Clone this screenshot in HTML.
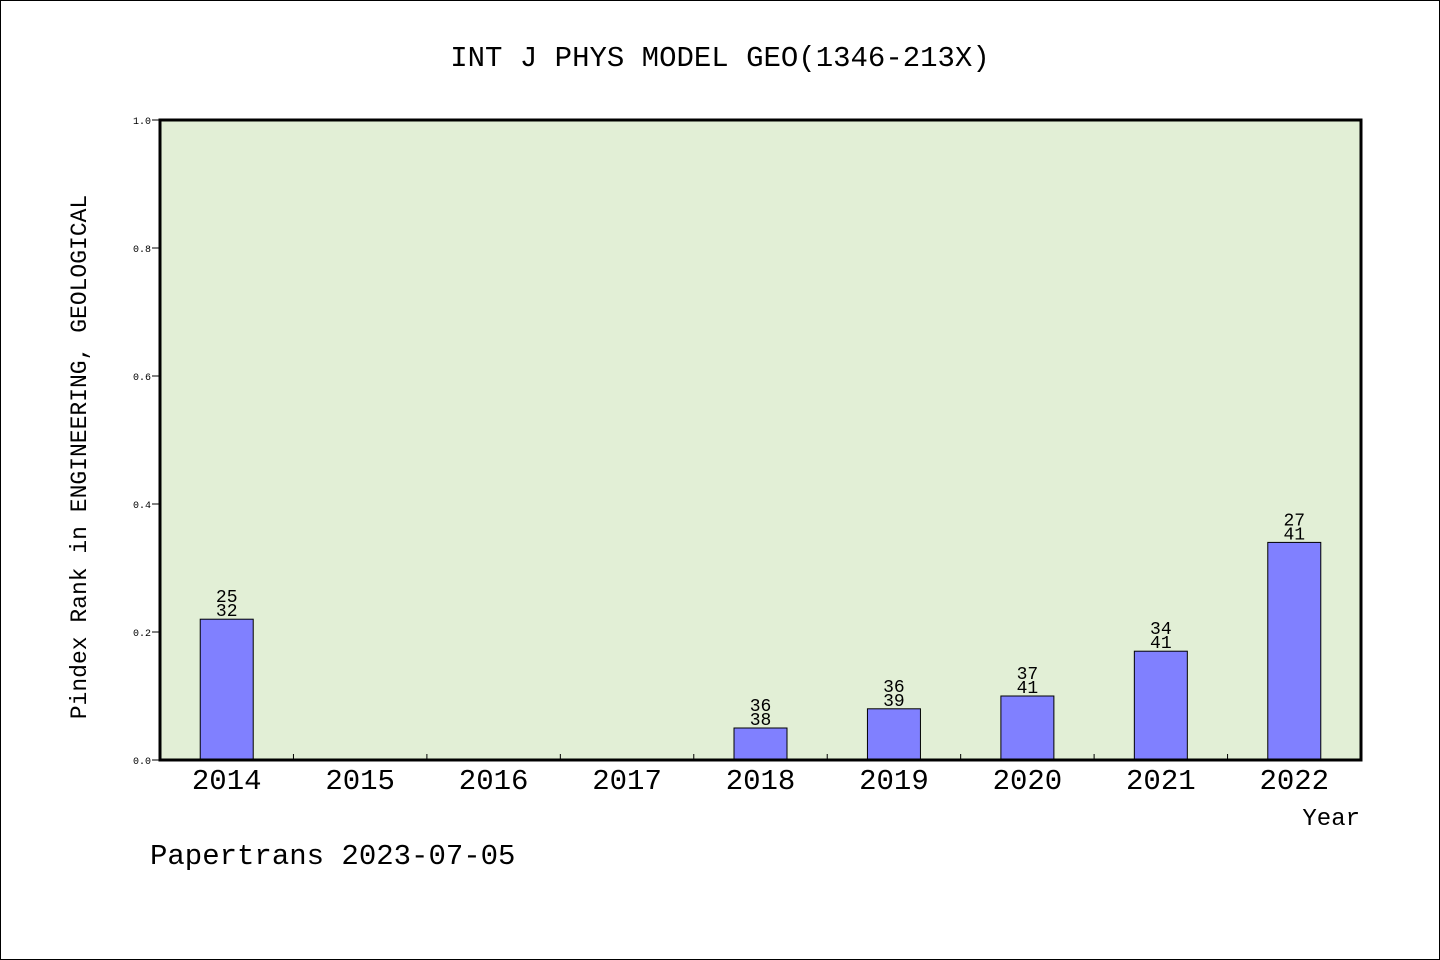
<!DOCTYPE html>
<html><head><meta charset="utf-8"><style>
html,body{margin:0;padding:0;background:#fff}
svg{display:block}
text{font-family:"Liberation Mono","WenQuanYi Zen Hei",monospace;fill:#000}
</style></head><body>
<svg id="chart" width="1440" height="960" xmlns="http://www.w3.org/2000/svg">
<rect x="0.5" y="0.5" width="1439" height="959" fill="#fff" stroke="#000" stroke-width="1"/>
<text x="720" y="66" font-size="29" text-anchor="middle">INT J PHYS MODEL GEO(1346-213X)</text>
<rect x="160" y="120" width="1201" height="640" fill="#e2efd6"/>
<g id="bars"></g>
<g id="ticks"></g>
<rect x="160" y="120" width="1201" height="640" fill="none" stroke="#000" stroke-width="3"/>
<text transform="translate(86,457) rotate(-90)" font-size="23" text-anchor="middle">Pindex Rank in ENGINEERING, GEOLOGICAL</text>
<text x="1360" y="825" font-size="24" text-anchor="end">Year</text>
<text x="150" y="864" font-size="29">Papertrans 2023-07-05</text>
</svg>
<script>
const categories = ["2014","2015","2016","2017","2018","2019","2020","2021","2022"];
const values = [0.22, null, null, null, 0.05, 0.08, 0.10, 0.17, 0.34];
const ranks = ["25", null, null, null, "36", "36", "37", "34", "27"];
const totals = ["32", null, null, null, "38", "39", "41", "41", "41"];
const yTicks = [0, 0.2, 0.4, 0.6, 0.8, 1.0];
const yTickLabels = ["0.0","0.2","0.4","0.6","0.8","1.0"];

const X0 = 160, X1 = 1361, Y0 = 760, Y1 = 120;
const band = (X1 - X0) / categories.length;
const xC = i => X0 + band * (i + 0.5);
const y = v => Y0 - (v / 1.0) * (Y0 - Y1);
const NS = "http://www.w3.org/2000/svg";
const bars = document.getElementById('bars');
const ticks = document.getElementById('ticks');
function mk(tag, attrs, parent, txt) {
  const e = document.createElementNS(NS, tag);
  for (const k in attrs) e.setAttribute(k, attrs[k]);
  if (txt !== undefined) e.textContent = txt;
  parent.appendChild(e);
  return e;
}
categories.forEach((c, i) => {
  const lab = mk('text', {x: xC(i), y: 789, 'font-size': 29, 'text-anchor': 'middle'}, ticks, c);
  
  
  if (i > 0) {
    const t = mk('line', {x1: X0 + band * i, x2: X0 + band * i, y1: Y0, y2: Y0 - 6, stroke: '#000', 'stroke-width': 1}, ticks);
    
    
  }
  const v = values[i];
  if (v === null) return;
  const bw = 53;
  const r = mk('rect', {x: xC(i) - bw / 2, y: y(v), width: bw, height: Y0 - y(v), fill: '#8080ff', stroke: '#000', 'stroke-width': 1}, bars);
  
  
  const t1 = mk('text', {x: xC(i), y: y(v) - 17, 'font-size': 18, 'text-anchor': 'middle'}, bars, ranks[i]);
  
  
  const t2 = mk('text', {x: xC(i), y: y(v) - 3, 'font-size': 18, 'text-anchor': 'middle'}, bars, totals[i]);
  
  
});
yTicks.forEach((v, i) => {
  const t = mk('line', {x1: X0, x2: X0 - 8, y1: y(v), y2: y(v), stroke: '#000', 'stroke-width': 1}, ticks);
  
  
  const l = mk('text', {x: 151, y: y(v) + 4, 'font-size': 10, 'text-anchor': 'end'}, ticks, yTickLabels[i]);
  
  
});
</script>
</body></html>
